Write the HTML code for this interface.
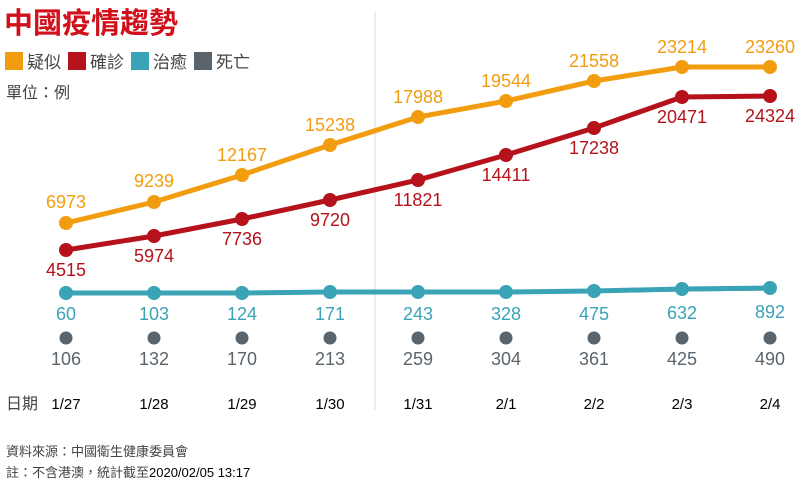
<!DOCTYPE html><html><head><meta charset="utf-8"><style>
body{margin:0;background:#fff;width:800px;height:488px;overflow:hidden;font-family:"Liberation Sans","Noto Sans CJK TC",sans-serif}
</style></head><body>
<svg width="800" height="488" xmlns="http://www.w3.org/2000/svg" font-family="Liberation Sans, Noto Sans CJK TC, sans-serif">
<text x="4" y="33" font-size="29" font-weight="bold" fill="#d0111b" font-family="Noto Sans CJK TC, sans-serif">中國疫情趨勢</text>
<rect x="5" y="52" width="18" height="18" fill="#f29c0f"/><text x="27" y="68" font-size="17" fill="#444">疑似</text>
<rect x="68" y="52" width="18" height="18" fill="#b5121b"/><text x="90" y="68" font-size="17" fill="#444">確診</text>
<rect x="131" y="52" width="18" height="18" fill="#3aa3b5"/><text x="153" y="68" font-size="17" fill="#444">治癒</text>
<rect x="194" y="52" width="18" height="18" fill="#5a646c"/><text x="216" y="68" font-size="17" fill="#444">死亡</text>
<text x="6" y="98" font-size="16" fill="#444">單位：例</text>
<line x1="375" y1="12" x2="375" y2="410" stroke="#e6e6e6" stroke-width="1.5"/>
<g font-size="18" text-anchor="middle">
<polyline fill="none" stroke="#f29c0f" stroke-width="5" points="66,223 154,202 242,175 330,145 418,117 506,101 594,81 682,67 770,67"/>
<polyline fill="none" stroke="#b5121b" stroke-width="5" points="66,250 154,236 242,219 330,200 418,180 506,155 594,128 682,97 770,96"/>
<polyline fill="none" stroke="#5a646c" stroke-width="3" points="506,292 594,291 682,290 770,289"/>
<polyline fill="none" stroke="#3aa3b5" stroke-width="5" points="66,293 154,293 242,293 330,292 418,292 506,292 594,291 682,289 770,288"/>
<g fill="#f29c0f">
<circle cx="66" cy="223" r="7"/><circle cx="154" cy="202" r="7"/><circle cx="242" cy="175" r="7"/><circle cx="330" cy="145" r="7"/><circle cx="418" cy="117" r="7"/><circle cx="506" cy="101" r="7"/><circle cx="594" cy="81" r="7"/><circle cx="682" cy="67" r="7"/><circle cx="770" cy="67" r="7"/>
<text x="66" y="208">6973</text><text x="154" y="187">9239</text><text x="242" y="161">12167</text><text x="330" y="131">15238</text><text x="418" y="103">17988</text><text x="506" y="87">19544</text><text x="594" y="67">21558</text><text x="682" y="53">23214</text><text x="770" y="53">23260</text></g>
<g fill="#b5121b">
<circle cx="66" cy="250" r="7"/><circle cx="154" cy="236" r="7"/><circle cx="242" cy="219" r="7"/><circle cx="330" cy="200" r="7"/><circle cx="418" cy="180" r="7"/><circle cx="506" cy="155" r="7"/><circle cx="594" cy="128" r="7"/><circle cx="682" cy="97" r="7"/><circle cx="770" cy="96" r="7"/>
<text x="66" y="276">4515</text><text x="154" y="262">5974</text><text x="242" y="245">7736</text><text x="330" y="226">9720</text><text x="418" y="206">11821</text><text x="506" y="181">14411</text><text x="594" y="154">17238</text><text x="682" y="123">20471</text><text x="770" y="122">24324</text></g>
<g fill="#3aa3b5">
<circle cx="66" cy="293" r="7"/><circle cx="154" cy="293" r="7"/><circle cx="242" cy="293" r="7"/><circle cx="330" cy="292" r="7"/><circle cx="418" cy="292" r="7"/><circle cx="506" cy="292" r="7"/><circle cx="594" cy="291" r="7"/><circle cx="682" cy="289" r="7"/><circle cx="770" cy="288" r="7"/>
<text x="66" y="320">60</text><text x="154" y="320">103</text><text x="242" y="320">124</text><text x="330" y="320">171</text><text x="418" y="320">243</text><text x="506" y="320">328</text><text x="594" y="320">475</text><text x="682" y="319">632</text><text x="770" y="318">892</text></g>
<g fill="#5a646c">
<circle cx="66" cy="338" r="6.5"/><circle cx="154" cy="338" r="6.5"/><circle cx="242" cy="338" r="6.5"/><circle cx="330" cy="338" r="6.5"/><circle cx="418" cy="338" r="6.5"/><circle cx="506" cy="338" r="6.5"/><circle cx="594" cy="338" r="6.5"/><circle cx="682" cy="338" r="6.5"/><circle cx="770" cy="338" r="6.5"/>
<text x="66" y="365">106</text><text x="154" y="365">132</text><text x="242" y="365">170</text><text x="330" y="365">213</text><text x="418" y="365">259</text><text x="506" y="365">304</text><text x="594" y="365">361</text><text x="682" y="365">425</text><text x="770" y="365">490</text></g>
</g>
<text x="6" y="409" font-size="16" fill="#444">日期</text>
<g font-size="15" fill="#000" text-anchor="middle">
<text x="66" y="409">1/27</text><text x="154" y="409">1/28</text><text x="242" y="409">1/29</text><text x="330" y="409">1/30</text><text x="418" y="409">1/31</text><text x="506" y="409">2/1</text><text x="594" y="409">2/2</text><text x="682" y="409">2/3</text><text x="770" y="409">2/4</text></g>
<text x="6" y="456" font-size="13" fill="#444">資料來源：中國衛生健康委員會</text>
<text x="6" y="477" font-size="13" fill="#444">註：不含港澳，統計截至<tspan fill="#000">2020/02/05 13:17</tspan></text>
</svg></body></html>
